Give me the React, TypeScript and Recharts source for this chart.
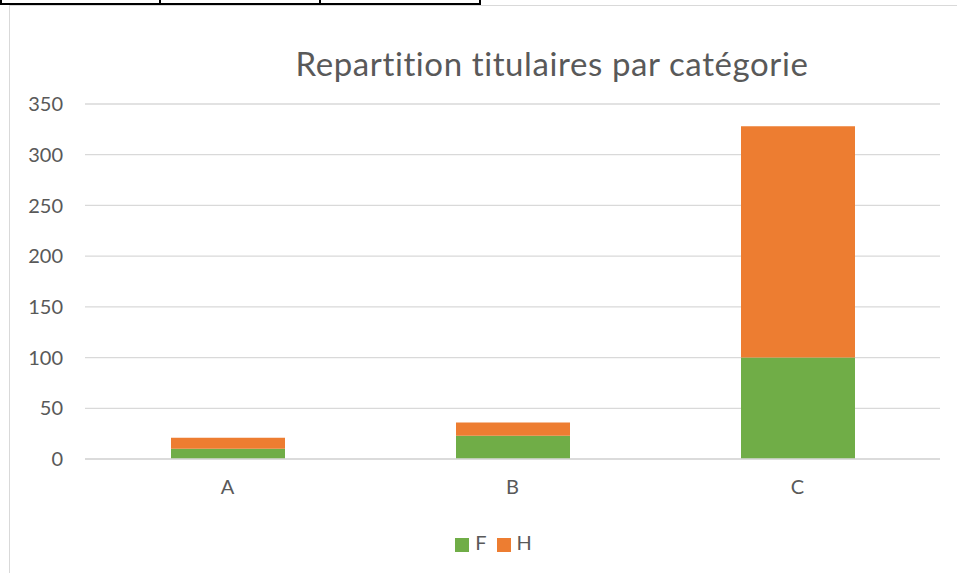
import React from 'react';
import { BarChart, Bar, XAxis, YAxis, CartesianGrid, Legend } from 'recharts';

const categories = ['A', 'B', 'C'];
const femmes = [10, 23, 100];
const hommes = [11, 13, 228];
const yTicks = [0, 50, 100, 150, 200, 250, 300, 350];

const data = categories.map((name, i) => ({ name, F: femmes[i], H: hommes[i] }));

const FONT = 'Lato, "Open Sans", sans-serif';
const TEXT = '#595959';

const App: React.FC = () => {
  return (
    <div style={{ position: 'absolute', left: 0, top: 0, width: 957, height: 573, background: '#fff', overflow: 'hidden', fontFamily: FONT }}>
      {/* bits of the sheet table above the chart */}
      <div style={{ position: 'absolute', left: 0, top: 3, width: 481, height: 2, background: '#000' }} />
      {[0, 159, 319, 479].map((x) => (
        <div key={x} style={{ position: 'absolute', left: x, top: 0, width: 2, height: 5, background: '#000' }} />
      ))}
      {/* chart frame */}
      <div style={{ position: 'absolute', left: 9, top: 5, width: 960, height: 600, borderLeft: '1.5px solid #d9d9d9', borderTop: '1px solid #d9d9d9' }} />

      <div style={{ position: 'absolute', left: 0, top: 43, width: 957, paddingLeft: 147, boxSizing: 'border-box', textAlign: 'center', fontSize: 33, lineHeight: '40px', color: TEXT, letterSpacing: 0.6 }}>
        Repartition titulaires par catégorie
      </div>

      <div style={{ position: 'absolute', left: 0, top: 0 }}>
        <BarChart width={957} height={573} data={data} margin={{ top: 104, right: 17, bottom: 84, left: 0 }}>
          <CartesianGrid horizontal vertical={false} stroke="#d9d9d9" strokeWidth={1.3} />
          <XAxis
            dataKey="name"
            axisLine={{ stroke: '#d9d9d9', strokeWidth: 1.5 }}
            tickLine={false}
            tickSize={0}
            tickMargin={21}
            height={30}
            tick={{ fill: TEXT, fontSize: 20, fontFamily: FONT }}
          />
          <YAxis
            width={85}
            domain={[0, 350]}
            ticks={yTicks}
            axisLine={false}
            tickLine={false}
            tickSize={0}
            tickMargin={22}
            tick={{ fill: TEXT, fontSize: 20, fontFamily: FONT }}
          />
          <Legend
            verticalAlign="middle"
            align="center"
            iconType="square"
            iconSize={14}
            wrapperStyle={{ top: 530, left: 20, width: 957, fontSize: 20, fontFamily: FONT }}
            formatter={(value) => <span style={{ color: TEXT, marginLeft: 2 }}>{value}</span>}
          />
          <Bar dataKey="F" stackId="s" fill="#70ad47" barSize={114} isAnimationActive={false} />
          <Bar dataKey="H" stackId="s" fill="#ed7d31" barSize={114} isAnimationActive={false} />
        </BarChart>
      </div>
    </div>
  );
};

export default App;
